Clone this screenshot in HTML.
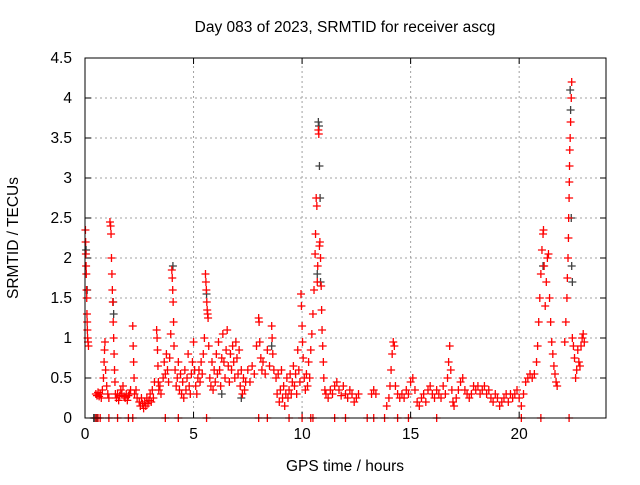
<!DOCTYPE html>
<html><head><meta charset="utf-8"><style>
body{margin:0;background:#fff;}
svg text{font-family:"Liberation Sans",sans-serif;font-size:15.5px;fill:#000;}
</style></head><body>
<svg id="chart" width="640" height="480" xmlns="http://www.w3.org/2000/svg">
<rect width="640" height="480" fill="#fff"/>
<text x="345" y="32" text-anchor="middle">Day 083 of 2023, SRMTID for receiver ascg</text>
<text x="345" y="471" text-anchor="middle">GPS time / hours</text>
<text x="18" y="238" text-anchor="middle" transform="rotate(-90 18 238)">SRMTID / TECUs</text>
<g id="grid"></g>
<g id="ticks"></g>
<g id="black"></g>
<g id="red"></g>
<rect x="85" y="58" width="521" height="360" fill="none" stroke="#000" stroke-width="1"/>
</svg>
<script>
const xTicks=[0,5,10,15,20];
const yTicks=[0,0.5,1,1.5,2,2.5,3,3.5,4,4.5];
const yTickLabels=["0","0.5","1","1.5","2","2.5","3","3.5","4","4.5"];
const redHours=[0.02,0.03,0.04,0.05,0.06,0.07,0.08,0.09,0.1,0.11,0.12,0.14,0.16,
0.5,0.55,0.6,0.65,0.7,0.75,0.8,0.85,0.88,0.9,0.92,0.95,1.0,1.05,1.1,
1.15,1.18,1.2,1.22,1.24,1.26,1.28,1.3,1.32,1.34,1.36,1.38,1.4,
1.45,1.5,1.55,1.6,1.65,1.7,1.75,1.8,1.85,1.9,1.95,2.0,2.05,2.1,
2.2,2.22,2.24,2.26,2.28,2.35,2.4,
2.5,2.55,2.6,2.65,2.7,2.75,2.8,2.85,2.9,2.95,3.0,3.05,3.1,3.15,3.2,
3.3,3.32,3.34,3.36,3.38,3.4,3.45,3.5,
3.6,3.65,3.7,3.75,3.8,3.85,3.9,3.95,4.0,4.02,4.04,4.06,4.08,4.1,4.15,4.2,4.25,4.3,
4.35,4.4,4.45,4.5,4.55,4.6,4.65,4.7,4.75,4.8,4.85,4.9,4.95,5.0,5.05,5.1,5.15,5.2,5.25,5.3,5.35,5.4,5.45,5.5,
5.55,5.57,5.59,5.61,5.63,5.65,5.67,5.7,
5.75,5.8,5.85,5.9,5.95,6.0,6.05,6.1,6.15,6.2,6.25,6.3,6.35,6.4,6.45,6.5,6.55,6.6,6.65,6.7,6.75,6.8,6.85,6.9,6.95,7.0,7.05,7.1,7.15,7.2,7.25,7.3,7.35,7.4,7.5,
7.6,7.7,7.8,7.9,8.0,8.02,8.05,8.1,8.15,8.2,8.3,8.4,8.5,8.6,8.62,8.65,8.7,
8.8,8.85,8.9,8.95,9.0,9.05,9.1,9.15,9.2,9.25,9.3,9.35,9.4,9.45,9.5,9.55,9.6,9.65,9.7,9.75,9.8,9.85,9.9,
9.95,9.97,10.0,10.02,10.05,10.1,10.15,10.2,10.25,10.3,10.35,10.4,
10.45,10.5,10.55,10.6,10.62,10.65,10.68,10.7,10.72,10.75,10.77,10.8,10.82,10.85,10.88,10.9,10.92,10.95,10.98,11.0,11.05,
11.1,11.2,11.3,11.4,11.5,11.6,11.7,11.8,11.9,12.0,12.1,12.2,12.3,12.4,12.5,12.6,
13.2,13.3,13.4,
13.9,14.0,14.05,14.1,14.15,14.2,14.25,14.3,14.4,14.5,
14.6,14.7,14.8,14.9,15.0,15.1,15.2,15.3,15.4,15.5,15.6,15.7,15.8,15.9,16.0,16.1,16.2,16.3,16.4,16.5,16.6,
16.7,16.75,16.8,16.85,16.9,16.95,17.0,
17.1,17.2,17.3,17.4,17.5,17.6,17.7,17.8,17.9,18.0,18.1,18.2,18.3,18.4,18.5,18.6,18.7,18.8,18.9,19.0,19.1,19.2,19.3,19.4,19.5,19.6,19.7,19.8,19.9,20.0,
20.1,20.2,20.3,20.4,20.5,20.6,20.7,
20.8,20.85,20.9,20.95,21.0,21.05,21.1,21.12,21.15,21.2,21.25,21.3,21.35,21.4,21.45,21.5,21.55,21.6,21.65,21.7,21.75,
22.1,22.15,22.2,22.22,22.25,22.27,22.28,22.3,22.31,22.32,22.33,22.35,22.37,22.4,22.42,
22.45,22.5,22.55,22.6,22.65,22.7,22.75,22.8,22.85,22.9,22.95,23.0,
0.5,0.6,0.7,1.1,1.5,2.0,2.2,3.7,4.3,5.6,8.0,8.4,9.4,10.0,10.4,10.5,11.5,12.0,13.0,13.3,13.8,14.4,14.9,16.2,20.1,21.0,22.3];
const redValues=[2.35,2.2,2.05,1.9,1.8,1.6,1.5,1.3,1.2,1.1,1.0,0.95,0.9,
0.3,0.28,0.32,0.27,0.3,0.25,0.35,0.5,0.7,0.85,0.95,0.6,0.4,0.3,0.25,
2.45,2.4,2.3,2.0,1.8,1.6,1.45,1.2,1.0,0.8,0.6,0.45,0.3,
0.25,0.3,0.22,0.28,0.35,0.3,0.4,0.27,0.25,0.3,0.22,0.28,0.3,0.35,
1.15,0.9,0.7,0.5,0.3,0.35,0.25,
0.2,0.15,0.25,0.18,0.12,0.2,0.15,0.25,0.18,0.22,0.3,0.2,0.35,0.25,0.45,
1.1,1.0,0.85,0.65,0.45,0.35,0.4,0.3,
0.5,0.7,0.55,0.8,0.6,0.45,0.75,1.05,1.85,1.75,1.6,1.45,1.2,0.9,0.6,0.4,0.5,0.7,
0.35,0.55,0.3,0.45,0.25,0.6,0.35,0.5,0.8,0.4,0.3,0.55,0.7,0.95,0.6,0.4,0.3,0.5,0.6,0.45,0.7,0.55,0.8,1.0,
1.8,1.7,1.6,1.45,1.35,1.3,1.25,0.9,
0.5,0.4,0.7,0.35,0.6,0.45,0.8,0.55,0.95,0.6,0.4,0.75,1.05,0.7,0.5,0.85,1.1,0.65,0.45,0.8,0.6,0.9,0.7,0.5,0.95,0.75,0.55,0.85,0.4,0.6,0.3,0.5,0.35,0.45,0.6,
0.45,0.65,0.55,0.9,1.25,1.2,0.95,0.75,0.6,0.7,0.55,0.85,0.65,1.15,1.0,0.8,0.6,
0.5,0.3,0.55,0.2,0.35,0.6,0.25,0.4,0.15,0.3,0.5,0.25,0.35,0.55,0.3,0.45,0.65,0.4,0.55,0.3,0.85,0.6,0.45,
1.55,1.4,1.15,0.95,0.75,0.5,0.35,0.55,0.4,0.7,0.5,0.85,
1.05,1.3,1.6,2.05,2.3,2.75,2.65,1.7,1.9,3.6,3.55,2.15,2.2,2.0,1.65,1.35,1.1,0.9,0.7,0.5,0.35,
0.3,0.25,0.35,0.3,0.4,0.45,0.35,0.28,0.4,0.3,0.25,0.35,0.3,0.2,0.25,0.3,
0.3,0.35,0.3,
0.15,0.25,0.4,0.6,0.8,0.95,0.9,0.4,0.3,0.25,
0.3,0.25,0.35,0.3,0.45,0.5,0.35,0.2,0.15,0.25,0.3,0.2,0.35,0.4,0.3,0.25,0.35,0.3,0.25,0.4,0.3,
0.5,0.7,0.9,0.6,0.35,0.2,0.15,
0.25,0.35,0.45,0.5,0.35,0.3,0.25,0.3,0.4,0.35,0.4,0.3,0.35,0.4,0.3,0.35,0.25,0.2,0.3,0.25,0.15,0.2,0.25,0.3,0.2,0.3,0.25,0.3,0.35,0.25,
0.15,0.3,0.45,0.5,0.55,0.5,0.55,
0.7,0.9,1.2,1.5,1.8,2.1,2.3,2.35,1.9,1.4,1.7,2.0,2.05,1.5,1.2,0.95,0.8,0.65,0.55,0.45,0.4,
0.95,1.2,1.5,1.75,2.0,2.25,2.5,2.75,2.95,3.15,3.35,3.5,3.7,4.0,4.2,
1.0,0.9,0.75,0.5,0.6,0.85,0.7,0.65,0.9,1.0,1.05,0.95,
0,0,0,0,0,0,0,0,0,0,0,0,0,0,0,0,0,0,0,0,0,0,0,0,0,0,0];
const blackHours=[0.05,0.1,1.3,1.32,4.05,5.6,10.75,10.78,10.8,10.83,10.7,10.85,22.35,22.37,22.4,22.42,22.45,21.1,8.6,6.3,7.2,0.4,0.45,0.55];
const blackValues=[2.1,1.6,1.45,1.3,1.9,1.55,3.7,3.65,3.15,2.75,1.8,1.7,4.1,3.85,2.5,1.9,1.7,1.9,0.9,0.3,0.25,0,0,0];

const X0=85,X1=606,Y0=418,Y1=58,XMAX=24,YMAX=4.5;
const sx=h=>X0+(X1-X0)*h/XMAX;
const sy=v=>Y0-(Y0-Y1)*v/YMAX;
const NS="http://www.w3.org/2000/svg";
function mk(tag,attrs,parent){const e=document.createElementNS(NS,tag);for(const k in attrs)e.setAttribute(k,attrs[k]);parent.appendChild(e);return e;}
const grid=document.getElementById('grid'),ticks=document.getElementById('ticks');
xTicks.forEach(t=>{
  const x=sx(t);
  if(t>0){const g=mk('line',{x1:x,x2:x,y1:Y0,y2:Y1,stroke:'#a0a0a0','stroke-dasharray':'2,3'},grid);
  
  }
  mk('line',{x1:x,x2:x,y1:Y0,y2:Y0-6,stroke:'#000'},ticks);
  mk('line',{x1:x,x2:x,y1:Y1,y2:Y1+6,stroke:'#000'},ticks);
  const l=mk('text',{x:x,y:Y0+21,'text-anchor':'middle'},ticks);l.textContent=t;
  
  
});
yTicks.forEach((t,i)=>{
  const y=sy(t);
  if(t>0&&t<YMAX){const g=mk('line',{x1:X0,x2:X1,y1:y,y2:y,stroke:'#a0a0a0','stroke-dasharray':'2,3'},grid);
  
  }
  mk('line',{x1:X0,x2:X0+6,y1:y,y2:y,stroke:'#000'},ticks);
  mk('line',{x1:X1,x2:X1-6,y1:y,y2:y,stroke:'#000'},ticks);
  const l=mk('text',{x:X0-13,y:y+5,'text-anchor':'end'},ticks);l.textContent=yTickLabels[i];
  
  
});
function plus(h,v,color,parent){
  const x=sx(h),y=sy(v),s=4;
  const p=mk('path',{d:`M${x-s},${y}H${x+s}M${x},${y-s}V${y+s}`,stroke:color,'stroke-width':1.3,fill:'none'},parent);
  
  
}
const bg=document.getElementById('black'),rg=document.getElementById('red');
blackHours.forEach((h,i)=>plus(h,blackValues[i],'#404040',bg));
redHours.forEach((h,i)=>plus(h,redValues[i],'#ff0000',rg));
</script>
</body></html>
